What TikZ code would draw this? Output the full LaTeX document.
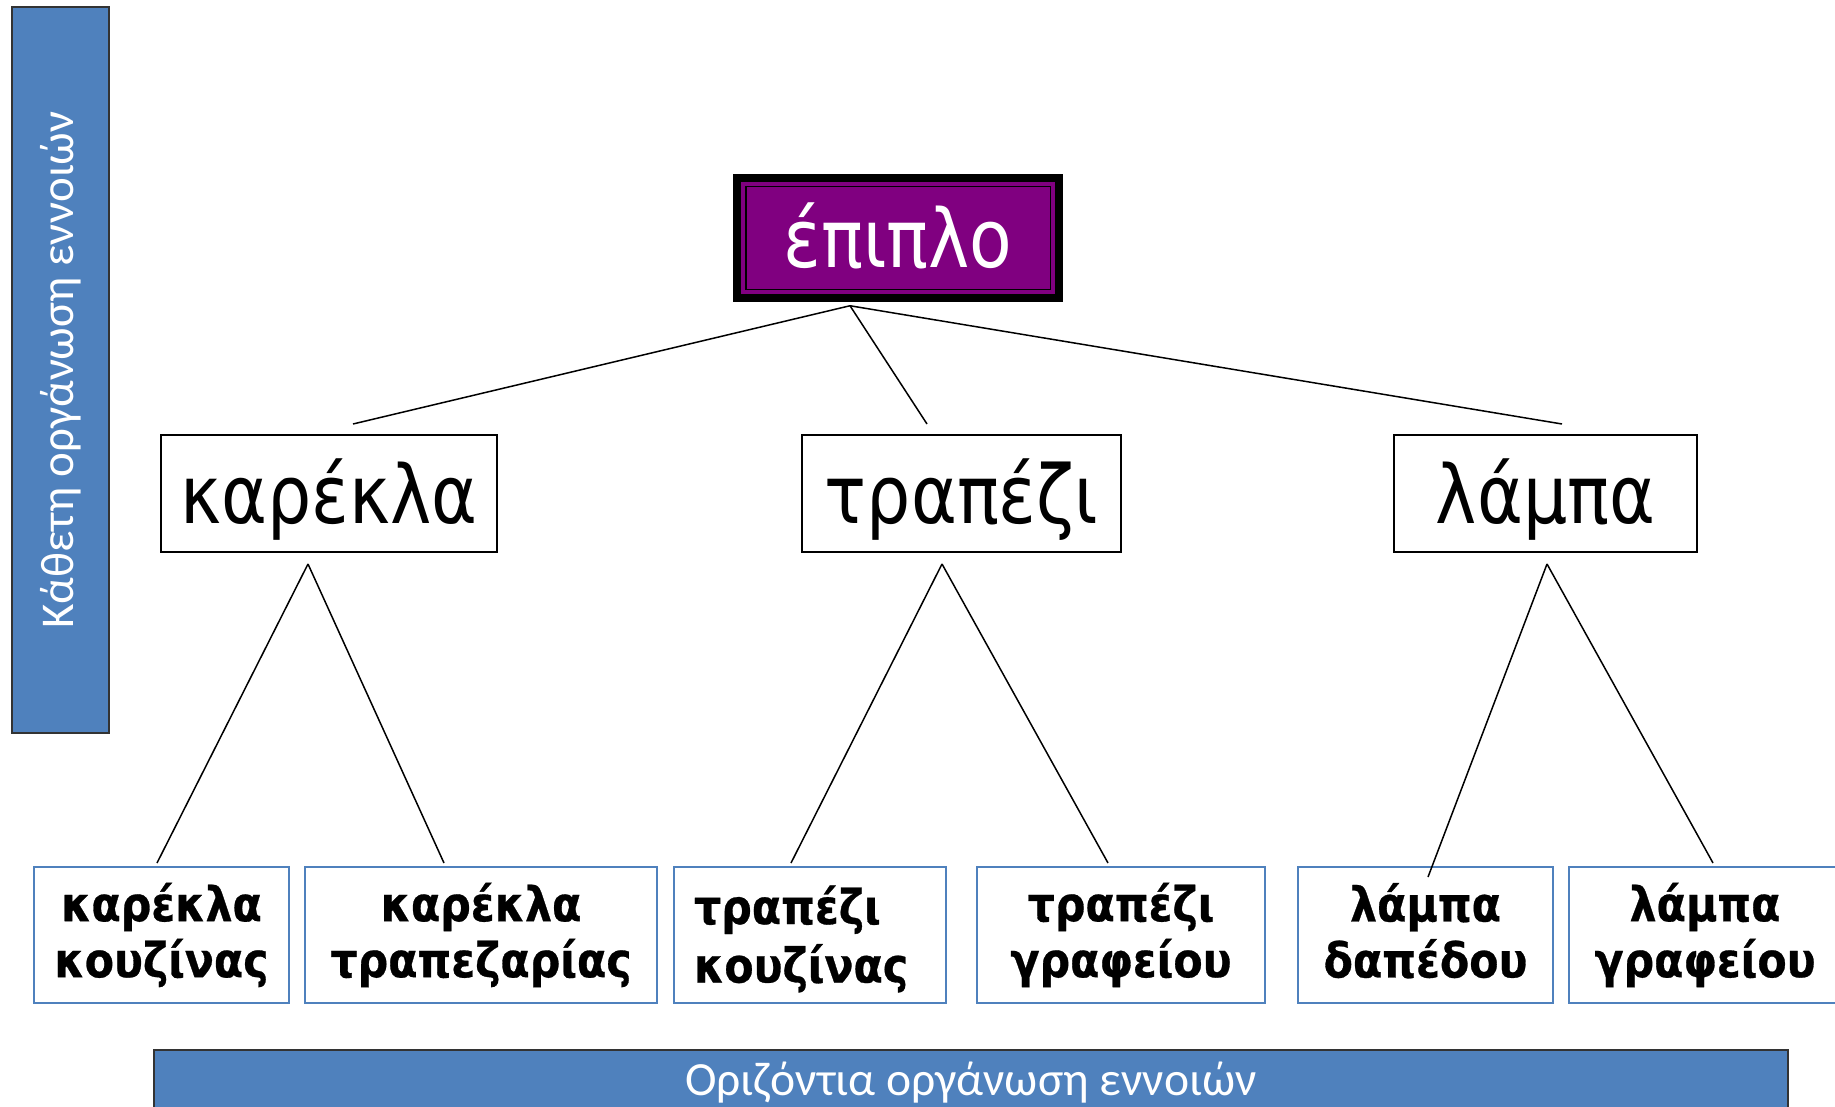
\documentclass[tikz,border=0pt]{standalone}
\usepackage{fontspec}
\setmainfont{DejaVu Sans}
\newfontfamily\midfam[FakeStretch=0.86]{DejaVu Sans}
\newfontfamily\leaffam[FakeStretch=0.89,BoldFeatures={FakeBold=0.6}]{DejaVu Sans}
\newfontfamily\barfam{Carlito}
\usetikzlibrary{positioning,calc}

\definecolor{furnpurple}{RGB}{128,0,128}
\definecolor{barblue}{RGB}{79,129,189}
\definecolor{leafblue}{RGB}{79,129,189}
\newcommand{\leafstrut}{\rule[-4.75pt]{0pt}{28pt}}

\begin{document}
\begin{tikzpicture}[x=0.5pt,y=-0.5pt]
    \tikzstyle{midbox}=[draw=black,line width=1pt,inner sep=0pt,minimum height=58.5pt,
        text height=34pt,text depth=4.5pt,
        font=\midfam\fontsize{40.5pt}{44pt}\selectfont]
    \tikzstyle{topbox}=[midbox,fill=furnpurple,text=white,line width=0.75pt,
        preaction={draw=black,line width=12.75pt},
        preaction={draw=furnpurple,line width=4.75pt},
        minimum width=152.25pt,minimum height=51.25pt]
    \tikzstyle{leafbox}=[draw=leafblue,line width=1pt,inner sep=0pt,minimum height=68pt,
        align=center,execute at begin node=\leafstrut,execute at end node=\leafstrut,
        font=\leaffam\bfseries\fontsize{24pt}{28pt}\selectfont]
    \tikzstyle{bar}=[fill=barblue,draw=black!80,line width=0.75pt,inner sep=0pt,
        text=white]
    \tikzstyle{link}=[draw=black,line width=0.75pt]

    \useasboundingbox (0,0) rectangle (1835,1107);

    % side and bottom bars
    \node[bar,rotate=90,minimum width=363pt,minimum height=48.5pt,
        font=\barfam\fontsize{23.5pt}{26pt}\selectfont] (vert) at (60.5,370) {Κάθετη οργάνωση εννοιών};
    \node[bar,minimum width=817pt,minimum height=39pt,text height=11pt,text depth=5pt,
        font=\barfam\fontsize{23.8pt}{26pt}\selectfont] (horiz) at (971,1089) {Οριζόντια οργάνωση εννοιών};

    % hierarchy
    \node[topbox]                    (epiplo)  at (898,238)    {έπιπλο};
    \node[midbox,minimum width=168pt]   (karekla) at (329,493.5)  {καρέκλα};
    \node[midbox,minimum width=159.5pt] (trapezi) at (961.5,493.5) {τραπέζι};
    \node[midbox,minimum width=151.5pt] (lampa)   at (1545.5,493.5) {λάμπα};

    \node[leafbox,minimum width=127.5pt] (karkouz) at (161.5,935)  {καρέκλα\\κουζίνας};
    \node[leafbox,minimum width=176pt]   (kartrap) at (481,935)    {καρέκλα\\τραπεζαρίας};
    \node[leafbox,minimum width=136pt,text width=116pt,align=left] (trapkouz) at (810,935) {τραπέζι\\κουζίνας};
    \node[leafbox,minimum width=144pt]   (trapgraf) at (1121,935)  {τραπέζι\\γραφείου};
    \node[leafbox,minimum width=127.5pt] (lampdap)  at (1425.5,935) {λάμπα\\δαπέδου};
    \node[leafbox,minimum width=136pt]   (lampgraf) at (1705,935)  {λάμπα\\γραφείου};

    % line ends
    \coordinate (epiplo foot)  at ($(epiplo.south)+(-48,15.75)$);
    \coordinate (karekla head) at ($(karekla.north)+(24,-10)$);
    \coordinate (trapezi head) at ($(trapezi.north)+(-34.5,-10)$);
    \coordinate (lampa head)   at ($(lampa.north)+(16.5,-10)$);
    \coordinate (karekla foot) at ($(karekla.south)+(-21,11)$);
    \coordinate (trapezi foot) at ($(trapezi.south)+(-19.5,11)$);
    \coordinate (lampa foot)   at ($(lampa.south)+(1.5,11)$);
    \coordinate (karkouz head)  at ($(karkouz.north)+(-4.5,-3)$);
    \coordinate (kartrap head)  at ($(kartrap.north)+(-37,-3)$);
    \coordinate (trapkouz head) at ($(trapkouz.north)+(-19,-3)$);
    \coordinate (trapgraf head) at ($(trapgraf.north)+(-13,-3)$);
    \coordinate (lampdap head)  at ($(lampdap.north)+(2.5,11)$);
    \coordinate (lampgraf head) at ($(lampgraf.north)+(8,-3)$);

    \path[link]
    (epiplo foot) edge (karekla head)
    (epiplo foot) edge (trapezi head)
    (epiplo foot) edge (lampa head)
    (karekla foot) edge (karkouz head)
    (karekla foot) edge (kartrap head)
    (trapezi foot) edge (trapkouz head)
    (trapezi foot) edge (trapgraf head)
    (lampa foot) edge (lampdap head)
    (lampa foot) edge (lampgraf head);
\end{tikzpicture}
\end{document}
